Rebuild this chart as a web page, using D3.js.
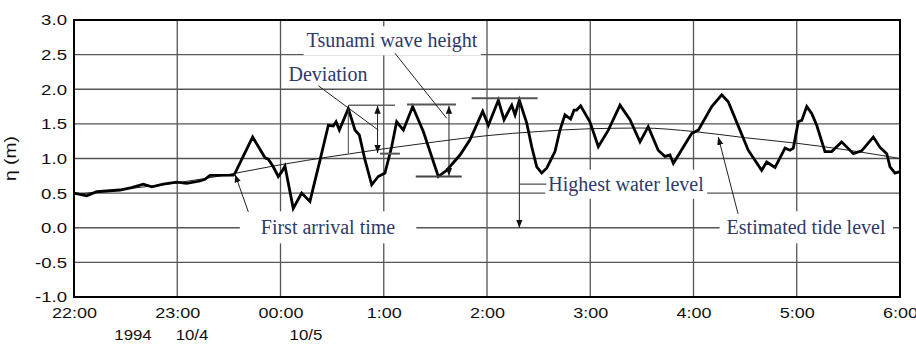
<!DOCTYPE html>
<html>
<head>
<meta charset="utf-8">
<script src="https://cdn.jsdelivr.net/npm/d3@7"></script>
<style>
    body { margin: 0; background: #fff; }
    svg { display: block; }
</style>
</head>
<body>
<div id="chart"></div>
<script>
// observed water level, minutes after 22:00 (1994/10/4)
const obsMinutes = [0, 7.4, 13.2, 26.7, 33.5, 40.3, 45.2, 51.9, 59.7, 65.5, 73.2, 76.1, 79.0, 92.6, 93.6,
    103.8, 111.0, 112.9, 115.8, 118.7, 120.7, 122.6, 127.4, 132.3, 137.1, 143.0, 147.8, 150.7, 152.3, 154.2,
    159.4, 163.3, 165.8, 169.1, 173.0, 176.8, 180.7, 184.6, 187.5, 191.4, 196.8, 203.0, 211.7, 216.6, 224.3,
    230.1, 237.5, 240.8, 246.6, 249.9, 254.4, 256.3, 258.8, 263.1, 266.0, 268.9, 271.8, 274.7, 279.5, 282.4,
    285.3, 288.6, 290.6, 292.1, 294.4, 299.8, 304.7, 310.5, 317.3, 323.1, 328.9, 333.7, 339.5, 343.4, 346.3,
    348.3, 358.9, 362.8, 370.6, 376.4, 380.2, 387.0, 391.8, 399.6, 402.5, 407.4, 413.2, 416.1, 418.0, 420.9,
    422.9, 425.8, 428.7, 431.6, 436.4, 440.3, 446.1, 452.9, 457.7, 464.5, 468.4, 472.3, 474.2, 477.1, 480];
const obsLevel = [0.50, 0.46, 0.52, 0.545, 0.58, 0.63, 0.59, 0.63, 0.66, 0.64, 0.675, 0.70, 0.755, 0.76, 0.79,
    1.31, 1.01, 0.99, 0.88, 0.74, 0.81, 0.89, 0.28, 0.50, 0.38, 0.98, 1.48, 1.47, 1.53, 1.41,
    1.72, 1.41, 1.34, 0.98, 0.62, 0.74, 0.79, 1.17, 1.53, 1.41, 1.75, 1.39, 0.74, 0.83, 1.05,
    1.27, 1.68, 1.48, 1.84, 1.56, 1.77, 1.63, 1.84, 1.51, 1.17, 0.88, 0.79, 0.86, 1.10, 1.41,
    1.63, 1.57, 1.70, 1.70, 1.76, 1.53, 1.17, 1.41, 1.77, 1.56, 1.24, 1.46, 1.12, 1.03, 1.05,
    0.93, 1.36, 1.41, 1.75, 1.92, 1.82, 1.41, 1.12, 0.83, 0.95, 0.87, 1.15, 1.12, 1.15, 1.53,
    1.55, 1.75, 1.65, 1.48, 1.10, 1.10, 1.24, 1.07, 1.11, 1.31, 1.16, 1.07, 0.88, 0.79, 0.81];

// estimated tide level
const tideMinutes = [0, 30, 60, 90, 120, 150, 180, 210, 240, 270, 300, 330, 360, 390, 420, 450, 480];
const tideLevel = [0.48, 0.56, 0.65, 0.77, 0.91, 1.03, 1.14, 1.24, 1.33, 1.39, 1.43, 1.44, 1.39, 1.30, 1.22, 1.12, 1.00];

const hourLabels = ["22:00", "23:00", "00:00", "1:00", "2:00", "3:00", "4:00", "5:00", "6:00"];
const levelTicks = [-1.0, -0.5, 0.0, 0.5, 1.0, 1.5, 2.0, 2.5, 3.0];
const dateLabels = ["1994", "10/4", "10/5"];
const dateMinutes = [34.3, 68.6, 134.8];

const margin = { top: 20, right: 16, bottom: 48, left: 74 },
    width = 916 - margin.left - margin.right,
    height = 345 - margin.top - margin.bottom;

const svg = d3.select("#chart")
    .append("svg")
    .attr("width", width + margin.left + margin.right)
    .attr("height", height + margin.top + margin.bottom)
    .append("g")
    .attr("transform", `translate(${margin.left},${margin.top})`);

const x = d3.scaleLinear().domain([0, 480]).range([0, width]);
const y = d3.scaleLinear().domain([-1, 3]).range([height, 0]);

const defs = svg.append("defs");
defs.append("marker")
    .attr("id", "arrow")
    .attr("viewBox", "0 0 10 10")
    .attr("refX", 10)
    .attr("refY", 5)
    .attr("markerWidth", 8)
    .attr("markerHeight", 8)
    .attr("markerUnits", "userSpaceOnUse")
    .attr("orient", "auto-start-reverse")
    .append("path")
    .attr("d", "M0,1L10,5L0,9z")
    .attr("fill", "#111");

// grid
svg.append("g")
    .selectAll("line")
    .data(levelTicks)
    .enter().append("line")
    .attr("x1", 0).attr("x2", width)
    .attr("y1", d => y(d)).attr("y2", d => y(d))
    .attr("stroke", "#555").attr("stroke-width", 1.3);

svg.append("g")
    .selectAll("line")
    .data(d3.range(0, 481, 60))
    .enter().append("line")
    .attr("x1", d => x(d)).attr("x2", d => x(d))
    .attr("y1", 0).attr("y2", height)
    .attr("stroke", "#555").attr("stroke-width", 1.3);

// stretch sans labels a bit like the scanned figure
const widen = function() {
    const w = this.getComputedTextLength();
    d3.select(this).attr("textLength", w * 1.2).attr("lengthAdjust", "spacingAndGlyphs");
};

const yAxis = svg.append("g")
    .call(d3.axisLeft(y).tickValues(levelTicks).tickFormat(d => d.toFixed(1)).tickSize(0).tickPadding(7));
yAxis.select(".domain").remove();
yAxis.selectAll("text")
    .attr("font-family", "Liberation Sans, Arial, sans-serif")
    .attr("font-size", 15.5)
    .attr("fill", "#111")
    .each(widen);

const xAxis = svg.append("g")
    .attr("transform", `translate(0,${height})`)
    .call(d3.axisBottom(x).tickValues(d3.range(0, 481, 60)).tickFormat((d, i) => hourLabels[i]).tickSize(0).tickPadding(10));
xAxis.select(".domain").remove();
xAxis.selectAll("text")
    .attr("font-family", "Liberation Sans, Arial, sans-serif")
    .attr("font-size", 15)
    .attr("fill", "#111")
    .each(widen);

svg.append("g")
    .selectAll("text")
    .data(dateLabels)
    .enter().append("text")
    .attr("x", (d, i) => x(dateMinutes[i]))
    .attr("y", height + 43)
    .attr("text-anchor", "middle")
    .attr("font-family", "Liberation Sans, Arial, sans-serif")
    .attr("font-size", 14)
    .attr("fill", "#111")
    .text(d => d)
    .each(widen);

svg.append("text")
    .attr("transform", `translate(-58,${y(1.0)}) rotate(-90)`)
    .attr("text-anchor", "middle")
    .attr("font-family", "Liberation Sans, Arial, sans-serif")
    .attr("font-size", 16)
    .attr("fill", "#111")
    .text("η (m)")
    .each(widen);

// annotation labels on white boxes
const labels = [
    { text: "Tsunami wave height", m: 184.8, v: 2.70, anchor: "middle", padX: 3, padY: 3 },
    { text: "Deviation", m: 147.6, v: 2.22, anchor: "middle", padX: 3, padY: 2 },
    { text: "First arrival time", m: 147.6, v: 0.0, anchor: "middle", padX: 21, padY: 5 },
    { text: "Highest water level", m: 275.6, v: 0.63, anchor: "start", padX: 3, padY: 3 },
    { text: "Estimated tide level", m: 425.4, v: 0.0, anchor: "middle", padX: 7, padY: 5 }
];

const labelG = svg.append("g");
labels.forEach(l => {
    const g = labelG.append("g");
    const t = g.append("text")
        .attr("x", x(l.m))
        .attr("y", y(l.v))
        .attr("dy", "0.33em")
        .attr("text-anchor", l.anchor)
        .attr("font-family", "Liberation Serif, Times New Roman, serif")
        .attr("font-size", 20)
        .attr("fill", "#2e3a6b")
        .text(l.text);
    const b = t.node().getBBox();
    g.insert("rect", "text")
        .attr("x", b.x - l.padX)
        .attr("y", b.y - l.padY)
        .attr("width", b.width + 2 * l.padX)
        .attr("height", b.height + 2 * l.padY)
        .attr("fill", "#fff");
});

// tide and observed level
const obs = obsMinutes.map((m, i) => [m, obsLevel[i]]);
const tide = tideMinutes.map((m, i) => [m, tideLevel[i]]);

svg.append("path")
    .datum(tide)
    .attr("fill", "none")
    .attr("stroke", "#222")
    .attr("stroke-width", 1)
    .attr("d", d3.line().x(d => x(d[0])).y(d => y(d[1])).curve(d3.curveMonotoneX));

svg.append("path")
    .datum(obs)
    .attr("fill", "none")
    .attr("stroke", "#000")
    .attr("stroke-width", 2.8)
    .attr("stroke-linejoin", "miter")
    .attr("d", d3.line().x(d => x(d[0])).y(d => y(d[1])));

// annotation lines
const ann = svg.append("g");
const seg = (m1, v1, m2, v2, opt = {}) => {
    ann.append("line")
        .attr("x1", x(m1)).attr("y1", y(v1))
        .attr("x2", x(m2)).attr("y2", y(v2))
        .attr("stroke", opt.color || "#222")
        .attr("stroke-width", opt.w || 1)
        .attr("marker-start", opt.start ? "url(#arrow)" : null)
        .attr("marker-end", opt.end ? "url(#arrow)" : null);
};

// tsunami wave height
seg(193.5, 1.78, 222, 1.78, { w: 2, color: "#555" });
seg(198.6, 0.74, 225.3, 0.74, { w: 2, color: "#444" });
seg(217.9, 1.76, 217.9, 0.75, { start: true, end: true });
seg(186.5, 2.52, 216.6, 1.58);

// deviation
seg(159.8, 1.77, 186.5, 1.77, { w: 1.5, color: "#666" });
seg(177.8, 1.07, 189.4, 1.07, { w: 2, color: "#555" });
seg(159.4, 1.72, 159.4, 1.07, { color: "#444" });
seg(176.4, 1.76, 176.4, 1.08, { start: true, end: true });
seg(142, 2.05, 176.8, 1.41);

// highest water level
seg(231.1, 1.87, 269.4, 1.87, { w: 2, color: "#555" });
seg(258.8, 1.86, 258.8, 0.0, { start: true, end: true });
seg(258.8, 0.63, 274.5, 0.63);

// first arrival time / estimated tide level
seg(101.3, 0.23, 93.6, 0.77, { end: true });
seg(385.9, 0.20, 374.4, 1.31, { end: true });

// frame
svg.append("rect")
    .attr("x", 0).attr("y", 0)
    .attr("width", width).attr("height", height)
    .attr("fill", "none")
    .attr("stroke", "#000")
    .attr("stroke-width", 2);
</script>
</body>
</html>
